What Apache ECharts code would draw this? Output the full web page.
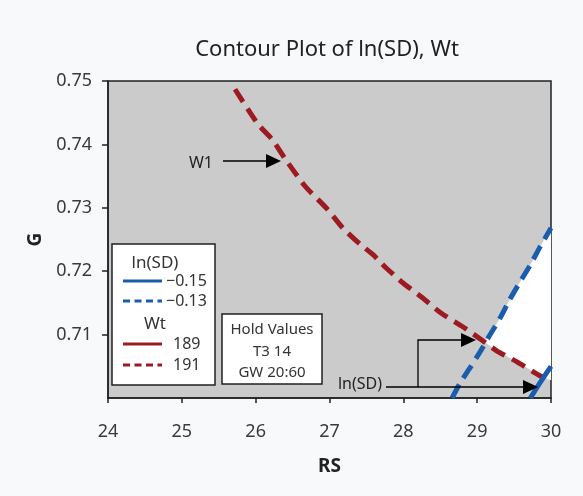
<!DOCTYPE html>
<html>
<head>
<meta charset="utf-8">
<script src="https://cdn.jsdelivr.net/npm/echarts@6/dist/echarts.min.js"></script>
<style>
html,body{margin:0;padding:0;background:#f8f9fa;}
#c{width:583px;height:496px;}
</style>
</head>
<body>
<div id="c"></div>
<script>
// ---- data ----
const rsTicks = [24, 25, 26, 27, 28, 29, 30];
const gTicks = [0.71, 0.72, 0.73, 0.74, 0.75];
// Wt = 191 contour (red dashed)
const wt191 = [[25.72,0.7487],[26.03,0.7432],[26.23,0.7407],[26.40,0.7377],[26.67,0.7334],[26.97,0.7298],[27.18,0.7268],[27.41,0.7243],[27.59,0.7226],[27.75,0.7207],[28.00,0.7181],[28.25,0.7159],[28.51,0.7134],[28.81,0.7112],[29.08,0.7090],[29.27,0.7074],[29.54,0.7057],[29.85,0.7035],[30.00,0.7028]];
// ln(SD) = -0.13 contour (blue dashed)
const lnsd013 = [[28.66,0.7000],[28.77,0.7024],[28.90,0.7047],[29.04,0.7073],[29.17,0.7099],[29.31,0.7126],[29.44,0.7155],[29.58,0.7183],[29.72,0.7210],[29.85,0.7238],[30.00,0.7268]];
// ln(SD) = -0.15 contour (blue solid)
const lnsd015 = [[29.72,0.7000],[29.85,0.7024],[30.00,0.7050]];
// corner where the two dashed contours cross
const crossPoint = [29.09, 0.7089];
const holdValues = ['Hold Values', 'T3 14', 'GW 20:60'];

// feasible (white) region built from the contour arrays
const feasible = [crossPoint]
  .concat(lnsd013.filter(p => p[0] > crossPoint[0]))
  .concat(wt191.filter(p => p[0] > crossPoint[0]).reverse());

const RED = '#9c1b20';
const BLUE = '#1a5cad';
const FONT = '"Noto Sans", "Open Sans", sans-serif';

const chart = echarts.init(document.getElementById('c'), null, {renderer: 'canvas'});

function arrowHead(tipX, tipY, len, half) {
  return {type: 'polygon', shape: {points: [[tipX, tipY], [tipX - len, tipY - half], [tipX - len, tipY + half]]},
          style: {fill: '#000'}, z: 100};
}

const graphics = [
  // legend box
  {type: 'rect', shape: {x: 112, y: 244, width: 103, height: 141}, style: {fill: '#fff', stroke: '#222', lineWidth: 1.5}, z: 50},
  {type: 'text', x: 155, y: 263, style: {text: 'ln(SD)', font: '17px ' + FONT, fill: '#333', align: 'center', verticalAlign: 'middle'}, z: 51},
  {type: 'line', shape: {x1: 123, y1: 281, x2: 162, y2: 281}, style: {stroke: BLUE, lineWidth: 3}, z: 51},
  {type: 'text', x: 166, y: 281, style: {text: '\u22120.15', font: '16px ' + FONT, fill: '#333', verticalAlign: 'middle'}, z: 51},
  {type: 'line', shape: {x1: 123, y1: 301, x2: 162, y2: 301}, style: {stroke: BLUE, lineWidth: 3, lineDash: [7, 4.5]}, z: 51},
  {type: 'text', x: 166, y: 301, style: {text: '\u22120.13', font: '16px ' + FONT, fill: '#333', verticalAlign: 'middle'}, z: 51},
  {type: 'text', x: 155, y: 324, style: {text: 'Wt', font: '17px ' + FONT, fill: '#333', align: 'center', verticalAlign: 'middle'}, z: 51},
  {type: 'line', shape: {x1: 123, y1: 344, x2: 162, y2: 344}, style: {stroke: RED, lineWidth: 3}, z: 51},
  {type: 'text', x: 173, y: 344, style: {text: '189', font: '16px ' + FONT, fill: '#333', verticalAlign: 'middle'}, z: 51},
  {type: 'line', shape: {x1: 123, y1: 365, x2: 162, y2: 365}, style: {stroke: RED, lineWidth: 3, lineDash: [7, 4.5]}, z: 51},
  {type: 'text', x: 173, y: 365, style: {text: '191', font: '16px ' + FONT, fill: '#333', verticalAlign: 'middle'}, z: 51},
  // hold values box
  {type: 'rect', shape: {x: 222, y: 314, width: 100, height: 70}, style: {fill: '#fff', stroke: '#222', lineWidth: 1.5}, z: 50},
  {type: 'text', x: 272, y: 330, style: {text: holdValues[0], font: '15px ' + FONT, fill: '#333', align: 'center', verticalAlign: 'middle'}, z: 51},
  {type: 'text', x: 272, y: 352, style: {text: holdValues[1], font: '15px ' + FONT, fill: '#333', align: 'center', verticalAlign: 'middle'}, z: 51},
  {type: 'text', x: 272, y: 373, style: {text: holdValues[2], font: '15px ' + FONT, fill: '#333', align: 'center', verticalAlign: 'middle'}, z: 51},
  // W1 annotation
  {type: 'text', x: 201, y: 163, style: {text: 'W1', font: '16px ' + FONT, fill: '#222', align: 'center', verticalAlign: 'middle'}, z: 100},
  {type: 'line', shape: {x1: 223, y1: 161, x2: 268, y2: 161}, style: {stroke: '#000', lineWidth: 1.3}, z: 100},
  arrowHead(281, 161, 15, 7),
  // ln(SD) annotation
  {type: 'text', x: 360, y: 384, style: {text: 'ln(SD)', font: '16px ' + FONT, fill: '#222', align: 'center', verticalAlign: 'middle'}, z: 100},
  {type: 'line', shape: {x1: 386, y1: 387, x2: 524, y2: 387}, style: {stroke: '#000', lineWidth: 1.3}, z: 100},
  arrowHead(538, 387, 15, 7),
  {type: 'polyline', shape: {points: [[418, 387], [418, 340], [462, 340]]}, style: {stroke: '#000', lineWidth: 1.3, fill: null}, z: 100},
  arrowHead(476, 340, 15, 7)
];

const option = {
  backgroundColor: '#f8f9fa',
  animation: false,
  title: {
    text: 'Contour Plot of ln(SD), Wt',
    left: 322, top: 34, textAlign: 'center',
    textStyle: {fontFamily: FONT, fontSize: 22, fontWeight: 'normal', color: '#222'}
  },
  grid: {left: 108, right: 32, top: 81, bottom: 98, show: true, backgroundColor: '#cbcbcb', borderColor: '#222', borderWidth: 1.5},
  xAxis: {
    type: 'value', min: 24, max: 30, interval: 1,
    name: 'RS', nameLocation: 'middle', nameGap: 59,
    nameTextStyle: {fontFamily: FONT, fontSize: 19, fontWeight: 'bold', color: '#222'},
    axisLine: {show: true, lineStyle: {color: '#222', width: 1.5}},
    axisTick: {show: true, length: 5, lineStyle: {color: '#222', width: 1.5}, customValues: rsTicks},
    axisLabel: {margin: 25, fontFamily: FONT, fontSize: 18, color: '#3a3a3a', customValues: rsTicks},
    splitLine: {show: false}
  },
  yAxis: {
    type: 'value', min: 0.70, max: 0.75, interval: 0.01,
    name: 'G', nameLocation: 'middle', nameGap: 59, nameRotate: 90,
    nameTextStyle: {fontFamily: FONT, fontSize: 19, fontWeight: 'bold', color: '#222'},
    axisLine: {show: true, lineStyle: {color: '#222', width: 1.5}},
    axisTick: {show: true, length: 6, lineStyle: {color: '#222', width: 1.5}, customValues: gTicks},
    axisLabel: {margin: 16, fontFamily: FONT, fontSize: 18, color: '#3a3a3a', customValues: gTicks,
      formatter: v => v.toFixed(2)},
    splitLine: {show: false}
  },
  series: [
    {
      type: 'custom', name: 'feasible', silent: true, z: 1,
      data: [0],
      renderItem: function (params, api) {
        const pts = feasible.map(p => api.coord(p));
        return {type: 'polygon', shape: {points: pts}, style: {fill: '#ffffff'}};
      },
      clip: true
    },
    {type: 'line', name: 'Wt 191', data: wt191, showSymbol: false, smooth: 0.2, z: 5,
     lineStyle: {color: RED, width: 5, type: [15, 8], cap: 'butt'}},
    {type: 'line', name: 'ln(SD) -0.13', data: lnsd013, showSymbol: false, smooth: 0.2, z: 6,
     lineStyle: {color: BLUE, width: 5, type: [15, 8], cap: 'butt'}},
    {type: 'line', name: 'ln(SD) -0.15', data: lnsd015, showSymbol: false, smooth: 0.2, z: 6,
     lineStyle: {color: BLUE, width: 5, type: 'solid', cap: 'butt'}}
  ],
  graphic: graphics
};
chart.setOption(option);
</script>
</body>
</html>
